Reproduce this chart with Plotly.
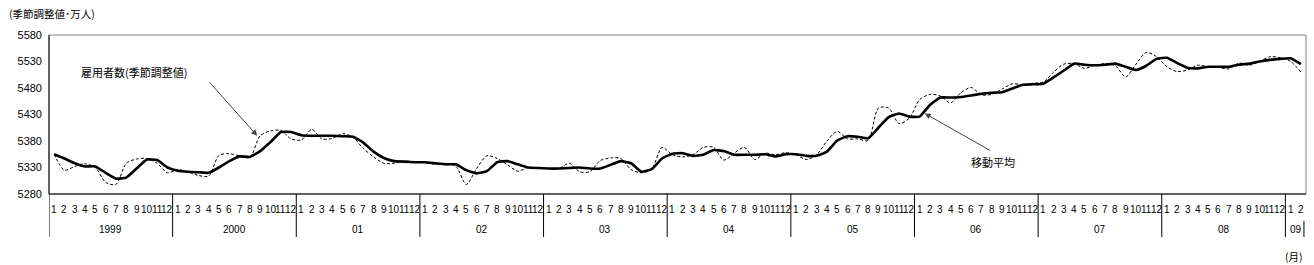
import plotly.graph_objects as go

years = ["1999", "2000", "01", "02", "03", "04", "05", "06", "07", "08", "09"]
months_per_year = [12, 12, 12, 12, 12, 12, 12, 12, 12, 12, 2]

employed_sa = [
    5355, 5325, 5332, 5337, 5330, 5302, 5298, 5338, 5346, 5347, 5338, 5320,  # 1999
    5326, 5322, 5315, 5314, 5353, 5356, 5352, 5349, 5390, 5399, 5400, 5384,  # 2000
    5382, 5402, 5384, 5385, 5394, 5387, 5366, 5350, 5338, 5338, 5342, 5341,  # 2001
    5339, 5336, 5338, 5332, 5298, 5328, 5352, 5347, 5335, 5323, 5330, 5329,  # 2002
    5328, 5328, 5338, 5322, 5322, 5343, 5348, 5347, 5326, 5320, 5327, 5368,  # 2003
    5354, 5350, 5354, 5368, 5368, 5344, 5357, 5368, 5345, 5357, 5354, 5358,  # 2004
    5354, 5345, 5354, 5380, 5398, 5384, 5384, 5381, 5442, 5442, 5413, 5423,  # 2005
    5458, 5468, 5465, 5452, 5471, 5481, 5467, 5468, 5478, 5488, 5486, 5489,  # 2006
    5491, 5510, 5525, 5526, 5517, 5523, 5526, 5522, 5501, 5525, 5547, 5539,  # 2007
    5520, 5511, 5514, 5523, 5520, 5519, 5516, 5527, 5523, 5530, 5539, 5537,  # 2008
    5530, 5510,                                                              # 2009
]

moving_avg = [
    5355, 5347, 5338, 5332, 5332, 5320, 5309, 5311, 5328, 5345, 5344, 5330,  # 1999
    5324, 5322, 5321, 5320, 5330, 5342, 5351, 5350, 5361, 5378, 5397, 5397,  # 2000
    5391, 5390, 5390, 5390, 5389, 5388, 5377, 5360, 5348, 5342, 5341, 5340,  # 2001
    5340, 5338, 5336, 5336, 5325, 5319, 5323, 5340, 5342, 5336, 5330, 5329,  # 2002
    5328, 5328, 5329, 5330, 5328, 5328, 5335, 5342, 5338, 5322, 5327, 5347,  # 2003
    5356, 5357, 5352, 5354, 5363, 5361, 5354, 5354, 5354, 5355, 5351, 5355,  # 2004
    5355, 5352, 5352, 5360, 5381, 5389, 5388, 5385, 5405, 5425, 5432, 5426,  # 2005
    5426, 5448, 5462, 5462, 5463, 5466, 5469, 5471, 5472, 5479, 5486, 5487,  # 2006
    5488, 5500, 5513, 5526, 5524, 5523, 5524, 5526, 5520, 5514, 5522, 5535,  # 2007
    5537, 5527, 5518, 5517, 5520, 5520, 5520, 5524, 5526, 5530, 5533, 5535,  # 2008
    5536, 5525,                                                              # 2009
]

y_ticks = [5280, 5330, 5380, 5430, 5480, 5530, 5580]

month_labels = []
year_starts = []
for n in months_per_year:
    year_starts.append(len(month_labels))
    month_labels += [str(m + 1) for m in range(n)]
x = list(range(len(month_labels)))

W, H = 1314, 265
L, R, T, B = 49, 8, 35, 71
PW, PH = W - L - R, H - T - B

def py(pix):
    # pixel y (from top of page) -> paper y
    return (H - B - pix) / PH

def px(pix):
    return (pix - L) / PW

fig = go.Figure()
fig.add_trace(go.Scatter(
    x=x, y=employed_sa, mode="lines",
    line=dict(color="black", width=1, dash="3px,2px", shape="spline", smoothing=0.8),
    hoverinfo="skip", showlegend=False))
fig.add_trace(go.Scatter(
    x=x, y=moving_avg, mode="lines",
    line=dict(color="black", width=2.6, shape="spline", smoothing=0.4),
    hoverinfo="skip", showlegend=False))

jp = "Noto Sans CJK JP"
num = "Liberation Sans"
ann = []
for i, lab in zip(x, month_labels):
    ann.append(dict(x=i, y=py(209), xref="x", yref="paper", text=lab, showarrow=False,
                    font=dict(family=num, size=10, color="black"), xanchor="center", yanchor="middle"))
for s, n, yl in zip(year_starts, months_per_year, years):
    ann.append(dict(x=s + (n - 1) / 2, y=py(229), xref="x", yref="paper", text=yl, showarrow=False,
                    font=dict(family=num, size=10, color="black"), xanchor="center", yanchor="middle"))

ann.append(dict(x=px(7), y=py(13), xref="paper", yref="paper", text="(季節調整値･万人)", showarrow=False,
                font=dict(family=jp, size=10.5, color="black"), xanchor="left", yanchor="middle"))
ann.append(dict(x=px(1305), y=py(256), xref="paper", yref="paper", text="(月)", showarrow=False,
                font=dict(family=jp, size=10.5, color="black"), xanchor="right", yanchor="middle"))
ann.append(dict(x=px(134), y=py(72), xref="paper", yref="paper", text="雇用者数(季節調整値)", showarrow=False,
                font=dict(family=jp, size=11, color="black"), xanchor="center", yanchor="middle"))
ann.append(dict(x=px(993), y=py(162), xref="paper", yref="paper", text="移動平均", showarrow=False,
                font=dict(family=jp, size=11, color="black"), xanchor="center", yanchor="middle"))
# arrows
ann.append(dict(x=19.7, y=5390, xref="x", yref="y", text="", showarrow=True, arrowhead=2, arrowsize=1.2,
                arrowwidth=1, arrowcolor="#444", ax=-49, ay=-55, standoff=0))
ann.append(dict(x=84.5, y=5432, xref="x", yref="y", text="", showarrow=True, arrowhead=2, arrowsize=1.2,
                arrowwidth=1, arrowcolor="#444", ax=67, ay=38, standoff=0))

shapes = [
    dict(type="rect", xref="paper", yref="paper", x0=0, x1=1, y0=0, y1=1,
         line=dict(color="#808080", width=1), layer="above"),
    dict(type="line", xref="paper", yref="paper", x0=0, x1=0, y0=0, y1=1,
         line=dict(color="black", width=1), layer="above"),
    dict(type="line", xref="paper", yref="paper", x0=0, x1=1, y0=0, y1=0,
         line=dict(color="black", width=1.2), layer="above"),
]
for s in year_starts:
    shapes.append(dict(type="line", xref="x", yref="paper", x0=s - 0.5, x1=s - 0.5,
                       y0=0, y1=py(237), line=dict(color="black", width=1)))
shapes.append(dict(type="line", xref="x", yref="paper", x0=len(x) - 0.7, x1=len(x) - 0.7,
                   y0=py(221), y1=py(237), line=dict(color="black", width=1)))

fig.update_layout(
    width=W, height=H, margin=dict(l=L, r=R, t=T, b=B),
    paper_bgcolor="white", plot_bgcolor="white",
    xaxis=dict(range=[-0.5, len(x) - 0.5], showticklabels=False, showgrid=False,
               zeroline=False, ticks="", showline=False),
    yaxis=dict(range=[y_ticks[0], y_ticks[-1]], tickvals=y_ticks, showgrid=False, zeroline=False,
               ticks="", showline=False, ticklabelstandoff=6,
               tickfont=dict(family=num, size=11, color="black")),
    annotations=ann, shapes=shapes,
)
fig.write_html("out.html")
